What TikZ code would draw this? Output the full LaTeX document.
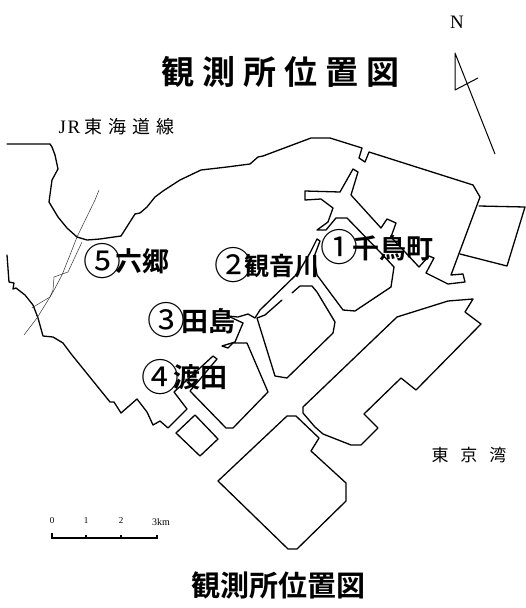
\documentclass[tikz,border=0pt]{standalone}
\usepackage{fontspec}
\setmainfont{Liberation Serif}
\newfontfamily\cjkbold{Noto Sans CJK JP Bold}
\newfontfamily\cjkreg{Noto Sans CJK JP}
\newcommand{\cnum}[1]{\makebox[26pt][c]{#1}}
\tikzset{
  land/.style={draw=black,line width=1.3pt,line join=round,line cap=round},
  rail/.style={draw=black!80,line width=0.5pt,line join=round},
  lbl/.style={anchor=base,inner sep=0pt,font=\cjkbold\fontsize{27}{27}\selectfont,text=black},
  circnum/.style={anchor=base,inner sep=0pt,font=\cjkreg\fontsize{38}{38}\selectfont,text=black},
  thin label/.style={anchor=base,inner sep=0pt,font=\cjkreg\fontsize{17}{17}\selectfont,text=black},
  tick label/.style={anchor=base,inner sep=0pt,font=\fontsize{9}{9}\selectfont,text=black}
}
\begin{document}
\begin{tikzpicture}[x=1pt,y=-1pt]
\useasboundingbox (0,0) rectangle (526,608);
\fill[white] (0,0) rectangle (526,608);
% mainland
\draw[land] (7,144) -- (50,144) -- (52,147) -- (55,155) -- (58,169) -- (52,180) -- (49,202) -- (58,217) -- (67,228) -- (77,237) -- (87,240) -- (100,239) -- (121,236) -- (128,225) -- (135,214) -- (140,213) -- (147,207) -- (155,197) -- (163,191) -- (180,180) -- (201,170) -- (227,167) -- (250,164) -- (258,157) -- (263,156) -- (311,138) -- (330,138) -- (362,148) -- (359,158) -- (365,162) -- (369,152) -- (473,185) -- (480,197) -- (451,275) -- (463,274) -- (465,282) -- (448,284) -- (426,273) -- (434,258) -- (429,256) -- (419,267) -- (391,237) -- (396,223) -- (387,219) -- (381,228) -- (351,195) -- (358,172) -- (353,169) -- (340,192) -- (305,191) -- (305,200) -- (321,199) -- (333,208) -- (328,222) -- (317,230) -- (326,230) -- (336,218) -- (347,218) -- (380,252) -- (394,267) -- (391,287) -- (355,311) -- (343,310) -- (317,275) -- (314,257) -- (320,241) -- (317,239) -- (310,253) -- (298,273) -- (260,310) -- (255,318) -- (248,314) -- (238,317) -- (228,316);
\draw[land] (243,323) -- (235,342) -- (222,346) -- (228,348) -- (233,343) -- (247,343) -- (268,392) -- (233,428) -- (226,428) -- (190,391) -- (217,359) -- (213,356) -- (174,392) -- (187,409) -- (168,428) -- (160,421) -- (153,425) -- (147,412) -- (137,399) -- (121,413) -- (114,402) -- (110,402) -- (72,355) -- (63,343) -- (53,337) -- (43,336) -- (38,318) -- (33,305) -- (25,295) -- (16,288) -- (13,289) -- (14,283) -- (9,282) -- (7,255);
\draw[land] (228,316) -- (243,323);
% inner island
\draw[land] (292,293) -- (300,286) -- (312,286) -- (317,292) -- (335,322) -- (333,333) -- (287,378) -- (275,376) -- (257,318) -- (265,315) -- (282,300);
% south-east islands
\draw[land] (397,317) -- (448,301) -- (473,299) -- (465,312) -- (481,324) -- (416,390) -- (401,378) -- (364,414) -- (378,428) -- (361,445) -- (351,445) -- (323,434) -- (315,427) -- (303,413) -- (303,407) -- cycle;
\draw[land] (287,416) -- (296,416) -- (319,438) -- (311,451) -- (346,483) -- (346,501) -- (297,549) -- (288,549) -- (218,481) -- cycle;
\draw[land] (195,415) -- (218,439) -- (200,456) -- (176,433) -- cycle;
\draw[land] (479,206) -- (525,207) -- (507,266) -- (460,254);
% railway
\draw[rail] (99,190) -- (95,200) -- (77,237) -- (70,255) -- (62,275) -- (53,292) -- (50,297) -- (37,318) -- (24,335);
\draw[rail] (82,242) -- (68,272) -- (54,277) -- (53,290) -- (50,297) -- (35,306) -- (32,308);
% north arrow
\node[anchor=base,inner sep=0pt,font=\fontsize{19}{19}\selectfont] (north) at (457,28) {N};
\draw[line width=1pt,line join=round] (495,154) -- (455,53) -- (455,90) -- (478,78);
% scale bar
\draw[line width=1.1pt] (52,533) -- (52,538) -- (157,538) -- (157,535);
\draw[line width=1.1pt] (86,538) -- (86,535);
\draw[line width=1.1pt] (121,538) -- (121,535);
\node[tick label] (s0) at (52,523) {0};
\node[tick label] (s1) at (86,523) {1};
\node[tick label] (s2) at (121,523) {2};
\node[tick label,font=\fontsize{10}{10}\selectfont] (s3) at (161,525) {3km};
% titles
\node[anchor=base,inner sep=0pt,font=\cjkbold\fontsize{33}{33}\selectfont] (title) at (280.5,84) {観\kern8pt 測\kern8pt 所\kern8pt 位\kern8pt 置\kern8pt 図};
\node[anchor=base,inner sep=0pt,font=\cjkbold\fontsize{29}{29}\selectfont] (caption) at (278,596) {観測所位置図};
% place labels
\node[anchor=base,inner sep=0pt,font=\fontsize{19}{19}\selectfont] (jr) at (116.5,133) {J\kern1.5pt R\kern4pt\cjkreg\fontsize{18}{18}\selectfont 東\kern6pt 海\kern6pt 道\kern6pt 線};
\node[thin label] (bay) at (469,461) {東\kern12pt 京\kern12pt 湾};
\node[circnum] (n5) at (102,275.5) {\cnum{⑤}};
\node[lbl] (t5) at (142.5,271) {六郷};
\node[circnum] (n2) at (233,279.5) {\cnum{②}};
\node[lbl,font=\cjkbold\fontsize{25}{25}\selectfont] (t2) at (282,275) {観音川};
\node[circnum] (n1) at (339,261.5) {\cnum{①}};
\node[lbl] (t1) at (393,258) {千鳥町};
\node[circnum] (n3) at (166,334.5) {\cnum{③}};
\node[lbl] (t3) at (208.5,331) {田島};
\node[circnum] (n4) at (160,391.5) {\cnum{④}};
\node[lbl] (t4) at (200.5,387.5) {渡田};
\end{tikzpicture}
\end{document}
